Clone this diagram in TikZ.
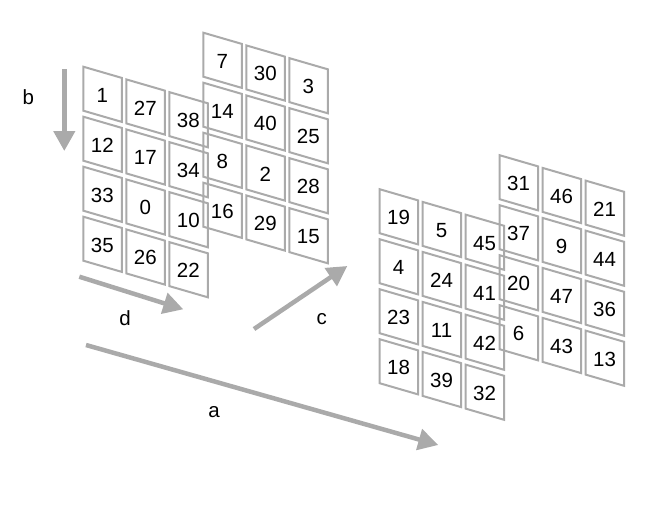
\documentclass[tikz,border=0pt]{standalone}
\usepackage{fontspec}
\setmainfont{Liberation Sans}
\usetikzlibrary{arrows.meta}
\definecolor{tilegray}{RGB}{170,170,170}
% one layer of 4x3 slanted tiles: origin x, origin y, rows
\newcommand\tilegrid[3]{%
  \foreach \row [count=\r from 0] in {#3} {
    \foreach \n [count=\c from 0] in \row {
      \draw[tile] ({#1+43*\c},{#2+12.7*\c+50*\r}) -- ++(38.5,11.2)
          -- ++(0,44) -- ++(-38.5,-11.2) -- cycle;
      \node[num] (t\n) at ({#1+43*\c+19},{#2+12.7*\c+50*\r+28.5}) {\n};
    }
  }}
\begin{document}
\begin{tikzpicture}[x=1pt,y=-1pt,
    tile/.style={draw=tilegray,line width=2pt},
    num/.style={inner sep=0pt,font=\fontsize{20.5}{22}\selectfont},
    mover/.style={draw=tilegray,line width=4.5pt,
        -{Triangle[length=20pt,width=21pt]}}]
  \useasboundingbox (0,0) rectangle (670,509);
  % left group
  \tilegrid{83.3}{66.7}{{1,27,38},{12,17,34},{33,0,10},{35,26,22}}
  \tilegrid{203.3}{32.7}{{7,30,3},{14,40,25},{8,2,28},{16,29,15}}
  % right group
  \tilegrid{379.6}{189.2}{{19,5,45},{4,24,41},{23,11,42},{18,39,32}}
  \tilegrid{499.6}{155.2}{{31,46,21},{37,9,44},{20,47,36},{6,43,13}}
  % arrows
  \coordinate (b0) at (64.3,69);   \coordinate (b1) at (64.3,151);
  \coordinate (d0) at (79.3,276.7); \coordinate (d1) at (183.3,309.3);
  \coordinate (c0) at (254,329);   \coordinate (c1) at (347.3,266);
  \coordinate (a0) at (86,345);    \coordinate (a1) at (438.3,445);
  \draw[mover] (b0) -- (b1);
  \draw[mover] (d0) -- (d1);
  \draw[mover] (c0) -- (c1);
  \draw[mover] (a0) -- (a1);
  \node[num] (lb) at (28.3,96.7) {b};
  \node[num] (ld) at (125,318.3) {d};
  \node[num] (lc) at (321.7,319.3) {c};
  \node[num] (la) at (214,411.7) {a};
\end{tikzpicture}
\end{document}
